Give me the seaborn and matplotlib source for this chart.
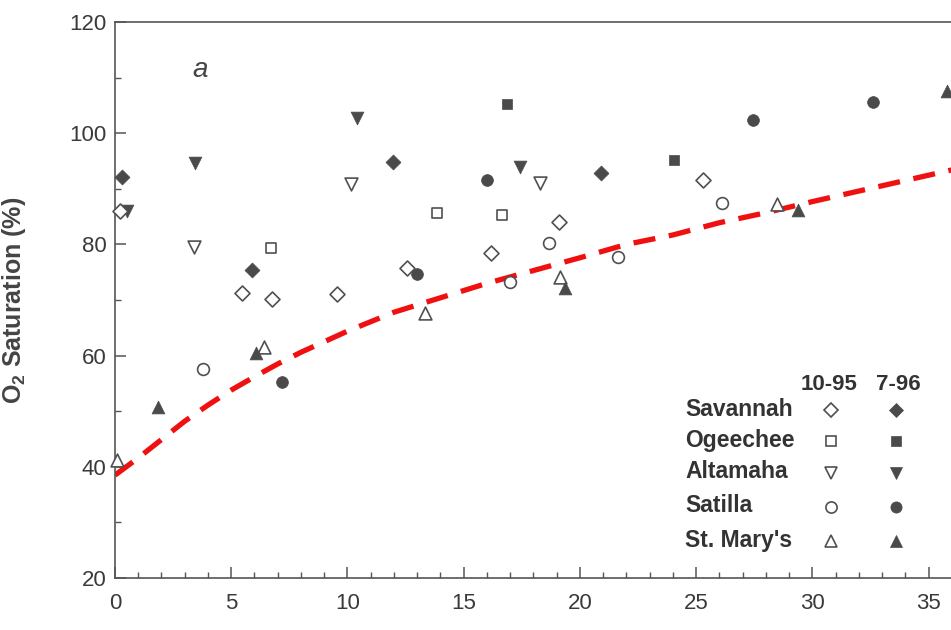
import matplotlib
matplotlib.use("Agg")
import matplotlib.pyplot as plt
import seaborn as sns
import pandas as pd
from matplotlib.ticker import MultipleLocator
from matplotlib.lines import Line2D

# ---------------- data ----------------
rivers = ["Savannah", "Ogeechee", "Altamaha", "Satilla", "St. Mary's"]
surveys = ["10-95", "7-96"]

sav_95_x = [0.2, 5.45, 6.74, 9.56, 12.55, 16.17, 19.1, 25.3]
sav_95_y = [86.0, 71.3, 70.2, 71.0, 75.7, 78.4, 84.1, 91.5]
sav_96_x = [0.29, 5.88, 11.97, 20.9]
sav_96_y = [92.1, 75.4, 94.9, 92.9]
oge_95_x = [6.7, 13.87, 16.66]
oge_95_y = [79.3, 85.6, 85.3]
oge_96_x = [16.88, 24.03]
oge_96_y = [105.3, 95.2]
alt_95_x = [3.41, 10.14, 18.28]
alt_95_y = [79.5, 90.9, 91.0]
alt_96_x = [0.5, 3.44, 10.42, 17.42]
alt_96_y = [86.0, 94.6, 102.7, 94.0]
sat_95_x = [3.8, 17.0, 18.67, 21.65, 26.1]
sat_95_y = [57.5, 73.3, 80.2, 77.8, 87.4]
sat_96_x = [7.17, 12.97, 16.0, 27.45, 32.6]
sat_96_y = [55.2, 74.7, 91.5, 102.3, 105.6]
stm_95_x = [0.07, 6.4, 13.33, 19.14, 28.49]
stm_95_y = [41.2, 61.5, 67.7, 74.2, 87.3]
stm_96_x = [1.83, 6.06, 19.35, 29.4, 35.77]
stm_96_y = [50.8, 60.4, 72.1, 86.2, 107.5]

curve_x = [0, 1, 2, 3, 4, 5, 6, 7, 8, 9, 10, 12, 14, 16, 18, 20, 22, 24,
           26, 28, 30, 32, 34, 36]
curve_y = [38.5, 41.6, 44.9, 48.2, 51.1, 53.8, 56.2, 58.5, 60.6, 62.5, 64.4,
           67.8, 70.4, 73.0, 75.3, 77.6, 80.0, 81.7, 83.9, 85.7, 87.7, 89.6,
           91.5, 93.4]

x_ticks = [0, 5, 10, 15, 20, 25, 30, 35]
y_ticks = [20, 40, 60, 80, 100, 120]

series = {
    ("Savannah", "10-95"): (sav_95_x, sav_95_y),
    ("Savannah", "7-96"): (sav_96_x, sav_96_y),
    ("Ogeechee", "10-95"): (oge_95_x, oge_95_y),
    ("Ogeechee", "7-96"): (oge_96_x, oge_96_y),
    ("Altamaha", "10-95"): (alt_95_x, alt_95_y),
    ("Altamaha", "7-96"): (alt_96_x, alt_96_y),
    ("Satilla", "10-95"): (sat_95_x, sat_95_y),
    ("Satilla", "7-96"): (sat_96_x, sat_96_y),
    ("St. Mary's", "10-95"): (stm_95_x, stm_95_y),
    ("St. Mary's", "7-96"): (stm_96_x, stm_96_y),
}
rows = []
for (r, s), (xs, ys) in series.items():
    for xv, yv in zip(xs, ys):
        rows.append({"river": r, "survey": s, "x": xv, "y": yv})
df = pd.DataFrame(rows)
curve_df = pd.DataFrame({"x": curve_x, "y": curve_y})

# ---------------- style ----------------
sns.set_style("ticks")
plt.rcParams["font.family"] = ["Liberation Sans", "DejaVu Sans"]
plt.rcParams["mathtext.fontset"] = "custom"
plt.rcParams["mathtext.rm"] = "Liberation Sans:bold"
plt.rcParams["mathtext.default"] = "rm"

markers = {"Savannah": "D", "Ogeechee": "s", "Altamaha": "v",
           "Satilla": "o", "St. Mary's": "^"}
sizes = {"Savannah": 58, "Ogeechee": 62, "Altamaha": 85,
         "Satilla": 72, "St. Mary's": 85}
EDGE = "#505050"
FILL = "#4a4a4a"

fig = plt.figure(figsize=(9.51, 6.30), dpi=100)
ax = fig.add_axes([115 / 951, 1 - 578 / 630, 1 - 115 / 951, (578 - 22) / 630])

# fitted dashed curve
sns.lineplot(data=curve_df, x="x", y="y", ax=ax, color="#f01010",
             linewidth=3.8, dashes=False, zorder=1)
ax.lines[-1].set_dashes((4.2, 2.6))

for (r, s), sub in df.groupby(["river", "survey"]):
    if s == "10-95":
        sns.scatterplot(data=sub, x="x", y="y", ax=ax, marker=markers[r],
                        s=sizes[r], facecolor="white", edgecolor=EDGE,
                        linewidth=1.2, zorder=3, clip_on=False)
    else:
        sns.scatterplot(data=sub, x="x", y="y", ax=ax, marker=markers[r],
                        s=sizes[r], color=FILL, edgecolor=FILL,
                        linewidth=0.5, zorder=3, clip_on=False)

ax.set_xlim(0, 35.96)
ax.set_ylim(20, 120)
ax.set_xticks(x_ticks)
ax.set_yticks(y_ticks)
ax.xaxis.set_minor_locator(MultipleLocator(1))
ax.yaxis.set_minor_locator(MultipleLocator(10))
ax.tick_params(which="major", direction="in", length=8, width=1.1,
               color="#555555", labelsize=16, labelcolor="#3a3a3a")
ax.tick_params(which="minor", direction="in", length=4, width=1.0,
               color="#555555")
ax.tick_params(axis="x", pad=11)
ax.tick_params(axis="y", pad=6)
for side in ["left", "bottom", "top"]:
    ax.spines[side].set_color("#555555")
    ax.spines[side].set_linewidth(1.2)
ax.spines["right"].set_visible(False)

ax.set_xlabel("")
ax.set_ylabel(r"O$_2$ Saturation (%)", fontsize=18, fontweight="bold",
              color="#444444")
ax.yaxis.set_label_coords(-0.104, 0.5)

ax.text((200 - 115) / 836, (578 - 70) / 556, "a", transform=ax.transAxes,
        fontsize=20, style="italic", color="#444444", ha="center", va="center")

# ---------------- custom two-column legend ----------------
def fx(px):
    return px / 951

def fy(py):
    return 1 - py / 630

fig.text(fx(829), fy(384), "10-95", fontsize=16, fontweight="bold",
         color="#333333", ha="center", va="center")
fig.text(fx(898), fy(384), "7-96", fontsize=16, fontweight="bold",
         color="#333333", ha="center", va="center")
row_y = [409, 440, 472, 506, 540]
for r, py in zip(rivers, row_y):
    fig.text(fx(685), fy(py), r, fontsize=16.5, fontweight="bold",
             color="#333333", ha="left", va="center")
    ms = (sizes[r] ** 0.5) * 0.95
    fig.add_artist(Line2D([fx(831)], [fy(py + 1)], marker=markers[r],
                          markersize=ms, markerfacecolor="white",
                          markeredgecolor=EDGE, markeredgewidth=1.2,
                          linestyle="none", transform=fig.transFigure))
    fig.add_artist(Line2D([fx(896)], [fy(py + 1)], marker=markers[r],
                          markersize=ms, markerfacecolor=FILL,
                          markeredgecolor=FILL, markeredgewidth=0.5,
                          linestyle="none", transform=fig.transFigure))

fig.savefig("out.png", dpi=100, facecolor="white")
